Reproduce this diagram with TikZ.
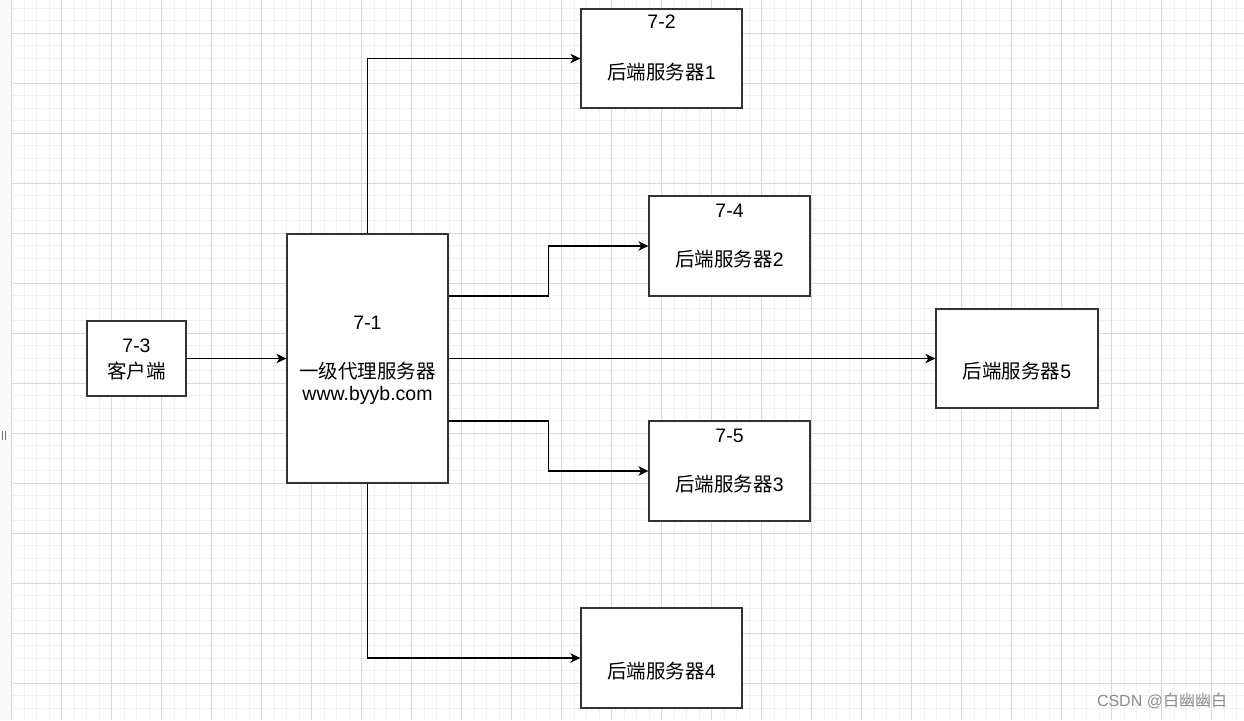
\documentclass[tikz,border=0pt]{standalone}
\usepackage{fontspec}
\setmainfont{Liberation Sans}
\newfontfamily\cjk{Noto Sans CJK SC}
\usetikzlibrary{arrows.meta}

\begin{document}
\begin{tikzpicture}[x=1pt,y=-1pt,
    box/.style={draw=black!80,line width=1.3pt,fill=white,inner sep=0pt},
    lbl/.style={inner sep=0pt,font=\fontsize{19.5}{23}\selectfont},
    arr/.style={line width=1.2pt,-{Stealth[length=10pt,width=9.5pt,inset=3pt]}},
    gridminor/.style={line width=0.8pt,black!6},
    gridmajor/.style={line width=0.9pt,black!15}]
  \useasboundingbox (0,0) rectangle (1244,720);
  \fill[black!2] (0,0) rectangle (11,720);
  \foreach \x in {11.7,24.2,...,1244} \draw[gridminor] (\x,0) -- (\x,720);
  \foreach \y in {8.3,20.8,...,720} \draw[gridminor] (11.7,\y) -- (1244,\y);
  \foreach \x in {11.7,61.7,...,1244} \draw[gridmajor] (\x,0) -- (\x,720);
  \foreach \y in {33.3,83.3,...,720} \draw[gridmajor] (11.7,\y) -- (1244,\y);
  \draw[line width=1pt,black!55] (2.5,431) -- (2.5,440) (5,431) -- (5,440);

  \node[box,minimum width=99pt,minimum height=75pt] (client) at (136.5,358.5) {};
  \node[box,minimum width=161pt,minimum height=249pt] (proxy) at (367.5,358.5) {};
  \node[box,minimum width=161pt,minimum height=99pt] (s1) at (661.5,58.5) {};
  \node[box,minimum width=161pt,minimum height=100pt] (s2) at (729.5,246) {};
  \node[box,minimum width=162pt,minimum height=99pt] (s5) at (1017,358.5) {};
  \node[box,minimum width=161pt,minimum height=100pt] (s3) at (729.5,471) {};
  \node[box,minimum width=161pt,minimum height=100pt] (s4) at (661.5,658) {};

  \node[lbl] (clientnum) at (136.5,346) {7-3};
  \node[lbl] (clientname) at (136.5,371) {\cjk 客户端};
  \node[lbl] (proxynum) at (367.5,323) {7-1};
  \node[lbl] (proxyname) at (367.5,371) {\cjk 一级代理服务器};
  \node[lbl] (proxyurl) at (367.5,395) {www.byyb.com};
  \node[lbl] (s1num) at (661.5,22) {7-2};
  \node[lbl] (s1name) at (661.5,72) {{\cjk 后端服务器}1};
  \node[lbl] (s2num) at (729.5,211) {7-4};
  \node[lbl] (s2name) at (729.5,259) {{\cjk 后端服务器}2};
  \node[lbl] (s5name) at (1017,371) {{\cjk 后端服务器}5};
  \node[lbl] (s3num) at (729.5,436) {7-5};
  \node[lbl] (s3name) at (729.5,484) {{\cjk 后端服务器}3};
  \node[lbl] (s4name) at (661.5,671) {{\cjk 后端服务器}4};

  \draw[arr] (client) -- (proxy);
  \draw[arr] (proxy.north) |- (s1);
  \draw[arr] ([yshift=62.5pt]proxy.east) -- ++(100,0) |- (s2);
  \draw[arr] (proxy) -- (s5);
  \draw[arr] ([yshift=-62.5pt]proxy.east) -- ++(100,0) |- (s3);
  \draw[arr] (proxy.south) |- (s4);

  \node[text=black!45,inner sep=0pt,font=\fontsize{16}{18}\selectfont] (mark) at (1162,701) {CSDN @{\cjk 白幽幽白}};
\end{tikzpicture}
\end{document}
